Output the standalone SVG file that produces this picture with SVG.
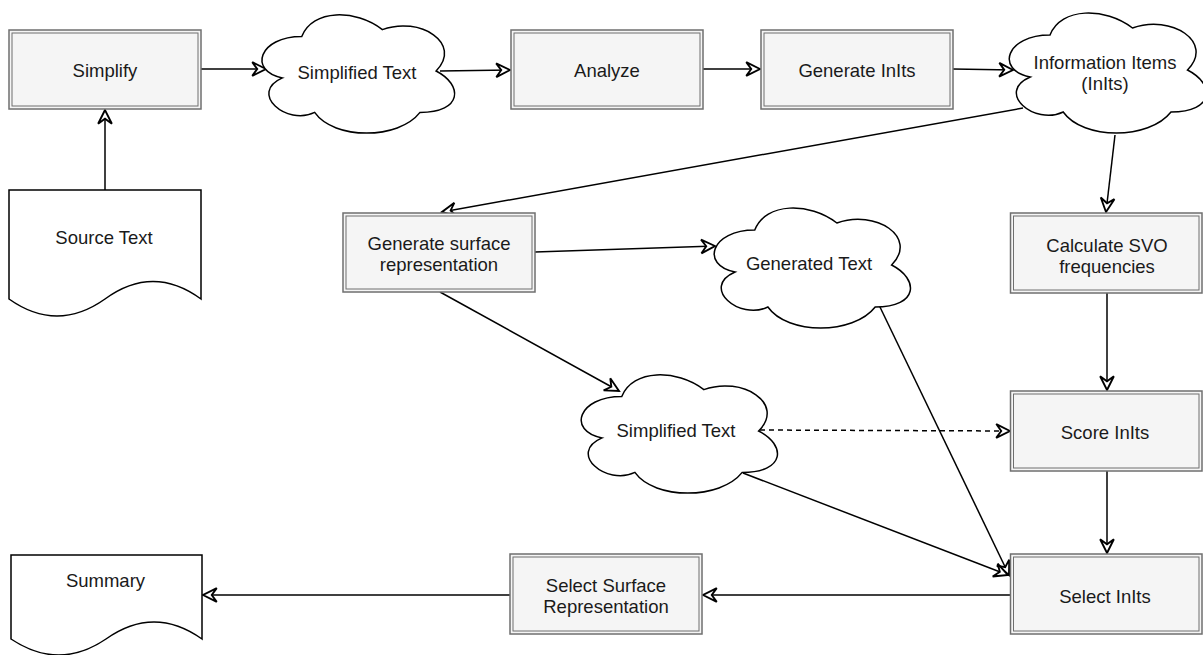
<svg xmlns="http://www.w3.org/2000/svg" width="1203" height="655" viewBox="0 0 1203 655">
<style>
.box{fill:#f5f5f5;stroke:#6f6f6f;stroke-width:1.5}
.inner{fill:none;stroke:#6f6f6f;stroke-width:1}
.shape{fill:#ffffff;stroke:#000;stroke-width:1.5}
.t{font-family:"Liberation Sans",Arial,Helvetica,sans-serif;font-size:18.5px;fill:#1a1a1a;text-anchor:middle}
.c{fill:none;stroke:#000;stroke-width:1.5}
.d{stroke-dasharray:5 4}
</style>
<defs>
<marker id="arr" markerUnits="userSpaceOnUse" markerWidth="20" markerHeight="20" refX="0" refY="0" viewBox="-12 -8 14 16" orient="auto" overflow="visible">
<path d="M0,0 L-11,-5.5 L-7,0 L-11,5.5 Z" fill="#fff" stroke="#000" stroke-width="1.5" stroke-linejoin="miter"/>
</marker>
</defs>
<g id="connectors">
<path class="c" d="M105,190 L105,110" marker-end="url(#arr)"/>
<path class="c" d="M201,69 L266,69" marker-end="url(#arr)"/>
<path class="c" d="M440,71 L510,70" marker-end="url(#arr)"/>
<path class="c" d="M703,69 L760,69" marker-end="url(#arr)"/>
<path class="c" d="M953,69 L1013,70" marker-end="url(#arr)"/>
<path class="c" d="M1023,108 L442,212" marker-end="url(#arr)"/>
<path class="c" d="M1115,135 L1106,212" marker-end="url(#arr)"/>
<path class="c" d="M535,252 L715,246" marker-end="url(#arr)"/>
<path class="c" d="M440,292 L619,391" marker-end="url(#arr)"/>
<path class="c" d="M879,305 L1009,575" marker-end="url(#arr)"/>
<path class="c" d="M743,473 L1008,575" marker-end="url(#arr)"/>
<path class="c d" d="M760,430 L1010,431" marker-end="url(#arr)"/>
<path class="c" d="M1107,293 L1107,390" marker-end="url(#arr)"/>
<path class="c" d="M1107,471 L1107,553" marker-end="url(#arr)"/>
<path class="c" d="M1011,595 L703,595" marker-end="url(#arr)"/>
<path class="c" d="M510,595 L203,595" marker-end="url(#arr)"/>
</g>
<g id="simplify">
<rect class="box" x="9" y="30" width="192" height="79"/>
<rect class="inner" x="12" y="33" width="186" height="73"/>
<text class="t" x="105" y="76.5">Simplify</text>
</g>
<g id="simplified-text-1">
<path class="shape" transform="translate(248,2) scale(215,138)" vector-effect="non-scaling-stroke" d="M0.25,0.25 C0.05,0.25 0,0.5 0.16,0.55 C0,0.66 0.18,0.9 0.31,0.8 C0.4,1 0.7,1 0.8,0.8 C1,0.8 1,0.6 0.875,0.5 C1,0.3 0.8,0.1 0.625,0.2 C0.5,0.05 0.3,0.05 0.25,0.25 Z"/>
<text class="t" x="357" y="78.5">Simplified Text</text>
</g>
<g id="analyze">
<rect class="box" x="511" y="30" width="192" height="79"/>
<rect class="inner" x="514" y="33" width="186" height="73"/>
<text class="t" x="607" y="76.5">Analyze</text>
</g>
<g id="generate-inits">
<rect class="box" x="761" y="30" width="192" height="79"/>
<rect class="inner" x="764" y="33" width="186" height="73"/>
<text class="t" x="857" y="76.5">Generate InIts</text>
</g>
<g id="information-items">
<path class="shape" transform="translate(995,0) scale(220,140)" vector-effect="non-scaling-stroke" d="M0.25,0.25 C0.05,0.25 0,0.5 0.16,0.55 C0,0.66 0.18,0.9 0.31,0.8 C0.4,1 0.7,1 0.8,0.8 C1,0.8 1,0.6 0.875,0.5 C1,0.3 0.8,0.1 0.625,0.2 C0.5,0.05 0.3,0.05 0.25,0.25 Z"/>
<text class="t" x="1105" y="68.5">Information Items</text>
<text class="t" x="1105" y="90">(InIts)</text>
</g>
<g id="source-text">
<path class="shape" d="M9,190 L201,190 L201,299 Q153,264 105,299 Q57,333 9,299 Z"/>
<text class="t" x="104" y="243.5">Source Text</text>
</g>
<g id="generate-surface">
<rect class="box" x="343" y="213" width="192" height="79"/>
<rect class="inner" x="346" y="216" width="186" height="73"/>
<text class="t" x="439" y="249.5">Generate surface</text>
<text class="t" x="439" y="271">representation</text>
</g>
<g id="generated-text">
<path class="shape" transform="translate(700,195) scale(219,140)" vector-effect="non-scaling-stroke" d="M0.25,0.25 C0.05,0.25 0,0.5 0.16,0.55 C0,0.66 0.18,0.9 0.31,0.8 C0.4,1 0.7,1 0.8,0.8 C1,0.8 1,0.6 0.875,0.5 C1,0.3 0.8,0.1 0.625,0.2 C0.5,0.05 0.3,0.05 0.25,0.25 Z"/>
<text class="t" x="809" y="269.5">Generated Text</text>
</g>
<g id="calculate-svo">
<rect class="box" x="1010.5" y="213" width="191.5" height="80"/>
<rect class="inner" x="1013.5" y="216" width="185.5" height="74"/>
<text class="t" x="1107" y="251.5">Calculate SVO</text>
<text class="t" x="1107" y="273">frequencies</text>
</g>
<g id="simplified-text-2">
<path class="shape" transform="translate(567,362) scale(219,138)" vector-effect="non-scaling-stroke" d="M0.25,0.25 C0.05,0.25 0,0.5 0.16,0.55 C0,0.66 0.18,0.9 0.31,0.8 C0.4,1 0.7,1 0.8,0.8 C1,0.8 1,0.6 0.875,0.5 C1,0.3 0.8,0.1 0.625,0.2 C0.5,0.05 0.3,0.05 0.25,0.25 Z"/>
<text class="t" x="676" y="436.5">Simplified Text</text>
</g>
<g id="score-inits">
<rect class="box" x="1010.5" y="391" width="191.5" height="80"/>
<rect class="inner" x="1013.5" y="394" width="185.5" height="74"/>
<text class="t" x="1105" y="438.5">Score InIts</text>
</g>
<g id="select-inits">
<rect class="box" x="1010.5" y="554" width="191.5" height="80"/>
<rect class="inner" x="1013.5" y="557" width="185.5" height="74"/>
<text class="t" x="1105" y="602.5">Select InIts</text>
</g>
<g id="select-surface">
<rect class="box" x="510" y="554" width="192" height="80"/>
<rect class="inner" x="513" y="557" width="186" height="74"/>
<text class="t" x="606" y="591.5">Select Surface</text>
<text class="t" x="606" y="613">Representation</text>
</g>
<g id="summary">
<path class="shape" d="M11,555 L202,555 L202,639 Q154,605 106,639 Q59,671 11,639 Z"/>
<text class="t" x="105.5" y="586.5">Summary</text>
</g>
</svg>
